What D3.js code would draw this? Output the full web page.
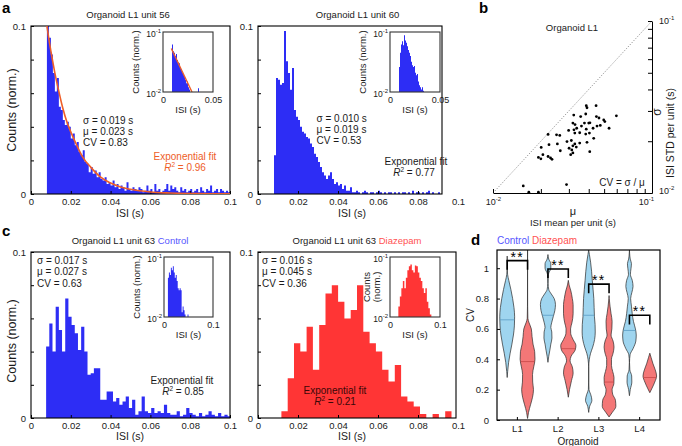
<!DOCTYPE html>
<html><head><meta charset="utf-8">
<script src="https://cdn.jsdelivr.net/npm/d3@7"></script>
<style>
body{margin:0;background:#fff;}
svg{font-family:"Liberation Sans", Arial, Helvetica, sans-serif;}
</style></head><body>
<script>
// ---------------- DATA ----------------
const histTicks = [0, 0.02, 0.04, 0.06, 0.08, 0.1];

// Panel a (left): Organoid L1 unit 56
const unit56Start = 0.008, unit56BinWidth = 0.001;
const unit56Counts = [0.105,0.093,0.083,0.072,0.061,0.069,0.052,0.050,0.044,0.041,
 0.043,0.040,0.033,0.036,0.029,0.031,0.025,0.023,0.026,0.019,
 0.018,0.013,0.016,0.012,0.014,0.010,0.013,0.009,0.008,0.010,
 0.006,0.007,0.005,0.008,0.004,0.006,0.003,0.005,0.004,0.002,
 0.007,0.003,0.002,0.004,0.003,0.002,0.004,0.003,0.001,0.002,
 0.005,0.002,0.003,0.001,0.006,0.002,0.003,0.001,0.002,0.003,
 0.006,0.002,0.005,0.003,0.004,0.002,0.001,0.004,0.002,0.003,
 0.001,0.002,0.003,0.001,0.002,0.003,0.001,0.004,0.002,0.001,
 0.003,0.002,0.005,0.001,0.002,0.003,0.001,0.003,0.002,0.001,
 0.002,0.001];
const unit56FitISI =    [0.008,0.009,0.010,0.012,0.014,0.016,0.018,0.020,0.023,0.026,0.030,0.035,0.040,0.045,0.050,0.060,0.070,0.080,0.090,0.100];
const unit56FitCounts = [0.100,0.092,0.085,0.072,0.061,0.051,0.043,0.037,0.029,0.022,0.016,0.010,0.0065,0.0042,0.0028,0.0012,0.0006,0.0003,0.0001,0.00005];
const unit56InsetStart = 0.009, unit56InsetWidth = 0.001;
const unit56InsetCounts = [0.062,0.048,0.045,0.040,0.043,0.034,0.031,0.030,0.026,0.024,
 0.021,0.020,0.018,0.016,0.014,0.015,0.012,0.011,0.010,0.0095,0.009,0.008,0.007,0.006,0.005,0.005,0.0115];
const unit56InsetFitISI = [0.0083, 0.0290];
const unit56InsetFitCounts = [0.053, 0.0098];
const unit56Stats = ["σ = 0.019 s", "μ = 0.023 s", "CV = 0.83"];
const unit56R2 = "0.96";

// Panel a (right): Organoid L1 unit 60
const unit60Start = 0.008, unit60BinWidth = 0.001;
const unit60Counts = [0.023,0.069,0.068,0.065,0.066,0.097,0.079,0.072,0.062,0.075,
 0.050,0.046,0.044,0.040,0.037,0.036,0.034,0.033,0.030,0.028,
 0.024,0.022,0.019,0.016,0.013,0.011,0.009,0.011,0.013,0.009,
 0.006,0.007,0.005,0.006,0.003,0.005,0.002,0.002,0.004,0.001,
 0.001,0.002,
 0.001,0,0.001,0.002,0.001,0,0.001,0.001,0,0.001,
 0.002,0.001,0,0.001,0,0.001,0.001,0,0.001,0,
 0.001,0,0.001,0.001,0,0.001,0,0.002,0,0.001,
 0.001,0,0.001,0,0.001,0.002,0,0.001,0,0,
 0.001,0,0.001,0,0,0.001,0,0,0,0];
const unit60InsetStart = 0.009, unit60InsetWidth = 0.001;
const unit60InsetCounts = [0.026,0.045,0.062,0.070,0.060,0.088,0.072,0.066,0.058,0.050,
 0.045,0.040,0.032,0.028,0.026,0.027,0.021,0.019,0.020,0.015,0.013,0.012,0.011,0.012,0.0105];
const unit60Stats = ["σ = 0.010 s", "μ = 0.019 s", "CV = 0.53"];
const unit60R2 = "0.77";

// Panel b: ISI mean vs STD per unit, Organoid L1
const unitMean = [0.0386,0.0390,0.0445,0.0597,0.0322,0.0356,0.0383,0.0447,0.0464,0.0497,0.0505,0.0318,0.0328,0.0336,0.0376,0.0400,0.0407,0.0323,0.0360,0.0386,0.0426,0.0451,0.0473,0.0537,0.0222,0.0251,0.0263,0.0299,0.0327,0.0351,0.0383,0.0404,0.0430,0.0292,0.0311,0.0327,0.0351,0.0225,0.0254,0.0265,0.0301,0.0313,0.0318,0.0334,0.0390,0.0406,0.0308,0.0318,0.0201,0.0206,0.0193,0.0200,0.0222,0.0230,0.0235,0.0155,0.0168,0.0193,0.0290];
const unitStd  = [0.0322,0.0313,0.0322,0.0281,0.0284,0.0278,0.0288,0.0278,0.0273,0.0266,0.0260,0.0255,0.0250,0.0238,0.0255,0.0255,0.0256,0.0233,0.0245,0.0235,0.0238,0.0245,0.0247,0.0238,0.0219,0.0218,0.0216,0.0231,0.0223,0.0224,0.0220,0.0223,0.0208,0.0199,0.0202,0.0193,0.0195,0.0191,0.0193,0.0176,0.0182,0.0178,0.0188,0.0185,0.0197,0.0174,0.0167,0.0171,0.0184,0.0167,0.0161,0.0158,0.0163,0.0160,0.0157,0.0110,0.0101,0.0101,0.0112];
const logTicks = [0.01,0.02,0.03,0.04,0.05,0.06,0.07,0.08,0.09,0.1];

// Panel c (left): unit 63 Control
const ctrlStart = 0.0076, ctrlBinWidth = 0.0016;
const ctrlCounts = [0.043,0.057,0.040,0.067,0.053,0.040,0.072,0.061,0.056,0.051,
 0.041,0.055,0.040,0.026,0.027,0.030,0.030,0.011,0.011,0.016,
 0.016,0.010,0.012,0.008,0.010,0.013,0.006,0.011,0.002,0.004,
 0.013,0.004,0.003,0.006,0.003,0.004,0.003,0.008,0.003,0.002,
 0.002,0.004,0.001,0.002,0.006,0.003,0.002,0.001,0.003,0.001,
 0.002,0.004,0.002,0.001,0.003,0.001,0.002,0.001];
const ctrlInsetStart = 0.008, ctrlInsetWidth = 0.002;
const ctrlInsetCounts = [0.045,0.055,0.050,0.066,0.060,0.070,0.055,0.045,0.050,0.040,0.030,0.028,0.030,0.028,0.012,0.015,0.013,0.011,0.010,0.009,0.011];
const ctrlStats = ["σ = 0.017 s", "μ = 0.027 s", "CV = 0.63"];
const ctrlR2 = "0.85";

// Panel c (right): unit 63 Diazepam
const dzpStart = 0.0117, dzpBinWidth = 0.00315;
const dzpCounts = [0.004,0.024,0.045,0.040,0.055,0.029,0.056,0.075,0.080,0.070,
 0.060,0.065,0.080,0.052,0.045,0.040,0.029,0.022,0.032,0.013,
 0.010,0.007,0.0024,0,0.0024,0,0.004];
const dzpInsetStart = 0.0167, dzpInsetWidth = 0.003;
const dzpInsetCounts = [0.015,0.022,0.030,0.040,0.030,0.045,0.060,0.070,0.075,0.060,0.055,0.072,0.070,0.055,0.045,0.040,0.030,0.025,0.030,0.018,0.014,0.011];
const dzpStats = ["σ = 0.016 s", "μ = 0.045 s", "CV = 0.36"];
const dzpR2 = "0.21";

// Panel d: CV violins, [CV, relative density]
const organoids = ["L1","L2","L3","L4"];
const conditions = ["Control","Diazepam"];
const controlL1 = [[0.28,0],[0.32,0.06],[0.38,0.18],[0.44,0.37],[0.5,0.59],[0.56,0.78],[0.62,0.9],[0.68,0.93],[0.74,0.85],[0.8,0.68],[0.86,0.46],[0.92,0.2],[0.96,0.05],[1.0,0.01],[1.08,0]];
const controlL2 = [[0.38,0],[0.42,0.1],[0.46,0.24],[0.5,0.36],[0.54,0.5],[0.58,0.48],[0.61,0.36],[0.64,0.46],[0.68,0.66],[0.72,0.86],[0.76,0.94],[0.8,0.78],[0.83,0.42],[0.86,0.1],[0.9,0.02],[0.96,0.06],[1.0,0.36],[1.03,0.36],[1.06,0.1],[1.09,0]];
const controlL3 = [[0.05,0],[0.09,0.12],[0.13,0.4],[0.17,0.24],[0.2,0.04],[0.25,0.01],[0.35,0.01],[0.4,0.08],[0.44,0.24],[0.48,0.5],[0.53,0.74],[0.58,0.82],[0.63,0.8],[0.68,0.72],[0.74,0.68],[0.8,0.64],[0.86,0.55],[0.92,0.45],[0.98,0.36],[1.04,0.24],[1.09,0.09],[1.12,0]];
const controlL4 = [[0.16,0],[0.2,0.1],[0.25,0.3],[0.29,0.28],[0.33,0.05],[0.38,0.01],[0.43,0.08],[0.47,0.45],[0.52,0.8],[0.56,0.85],[0.6,0.75],[0.65,0.5],[0.7,0.35],[0.75,0.25],[0.8,0.15],[0.84,0.3],[0.88,0.45],[0.92,0.35],[0.96,0.12],[1.0,0.2],[1.03,0.25],[1.06,0.1],[1.1,0.02],[1.12,0]];
const diazepamL1 = [[0.01,0],[0.05,0.12],[0.1,0.37],[0.15,0.62],[0.2,0.74],[0.25,0.64],[0.3,0.62],[0.35,0.77],[0.4,0.93],[0.45,0.89],[0.5,0.68],[0.55,0.56],[0.6,0.47],[0.64,0.19],[0.67,0.04],[0.75,0.01],[1.12,0]];
const diazepamL2 = [[0.15,0],[0.2,0.15],[0.26,0.4],[0.31,0.6],[0.35,0.5],[0.39,0.22],[0.42,0.35],[0.46,0.85],[0.49,0.95],[0.53,0.6],[0.57,0.3],[0.6,0.28],[0.64,0.45],[0.7,0.6],[0.76,0.6],[0.8,0.5],[0.85,0.32],[0.89,0.1],[0.92,0]];
const diazepamL3 = [[0.02,0],[0.05,0.4],[0.09,0.85],[0.13,0.8],[0.17,0.45],[0.2,0.38],[0.24,0.6],[0.28,0.62],[0.32,0.45],[0.36,0.3],[0.4,0.3],[0.44,0.5],[0.48,0.62],[0.52,0.5],[0.56,0.25],[0.6,0.35],[0.65,0.38],[0.7,0.25],[0.75,0.12],[0.8,0.02],[0.82,0]];
const diazepamL4 = [[0.18,0],[0.21,0.28],[0.25,0.62],[0.29,0.85],[0.33,0.68],[0.37,0.4],[0.41,0.17],[0.44,0]];
const controlMedians = [0.66, 0.69, 0.69, 0.59];
const diazepamMedians = [0.385, 0.47, 0.25, 0.28];
const sigTops = [1.05, 0.995, 0.895, 0.69];
const sigLabels = ["**","**","**","**"];
const cvTicks = [0, 0.2, 0.4, 0.6, 0.8, 1];

// ---------------- STYLE ----------------
const BLUE = "#2d2df5", RED = "#ff3535", ORANGE = "#ee5e28";
const CTRL_TXT = "#5656ff", DZP_TXT = "#ff5252";
const VBLUE = "#9fd5ef", VRED = "#f47777";

const svg = d3.select("body").append("svg").attr("width",682).attr("height",446);
const defs = svg.append("defs");

function txt(x, y, s, o = {}) {
  const t = svg.append("text").attr("x", x).attr("y", y).text(s)
    .attr("font-size", o.size || 10).attr("fill", o.fill || "#1a1a1a")
    .attr("text-anchor", o.anchor || "start");
  if (o.weight) t.attr("font-weight", o.weight);
  if (o.rotate) t.attr("transform", `rotate(-90,${x},${y})`);
  return t;
}
function r2text(cx, y, val, color) {
  const t = svg.append("text").attr("x", cx).attr("y", y).attr("text-anchor","middle")
    .attr("font-size", 10).attr("fill", color);
  t.append("tspan").attr("font-style","italic").text("R");
  t.append("tspan").attr("dy",-4).attr("font-size",6.5).text("2");
  t.append("tspan").attr("dy",4).text(" = " + val);
}
function supify(sel, size) {
  sel.selectAll(".tick text").each(function(d) {
    const t = d3.select(this);
    const e = Math.round(Math.log10(d));
    t.text("10");
    t.append("tspan").attr("dy", -4).attr("font-size", size || 6.5).text(String(e));
  });
}
function styleAxis(g, size) {
  g.select(".domain").remove();
  g.selectAll(".tick line").attr("stroke", "#000");
  g.selectAll(".tick text").attr("font-size", size || 9.5).attr("fill", "#1a1a1a").attr("font-family", null);
}
function bins(start, width, counts) {
  return counts.map((v, i) => ({x0: start + i*width, x1: start + (i+1)*width, v}));
}
function stepData(b) {
  const d = b.map(o => ({x: o.x0, v: o.v}));
  d.push({x: b[b.length-1].x1, v: b[b.length-1].v});
  return d;
}
let clipN = 0;
function clipRect(x, y, w, h) {
  const id = "clip" + (clipN++);
  defs.append("clipPath").attr("id", id).append("rect").attr("x", x).attr("y", y).attr("width", w).attr("height", h);
  return `url(#${id})`;
}

function mainHist(o) {
  const x = d3.scaleLinear().domain([0, 0.1]).range([o.left, o.left + o.span]);
  const y = d3.scaleLinear().domain([0, 0.1]).range([o.bottom, o.top]);
  const clip = clipRect(o.left, o.top, o.right - o.left, o.bottom - o.top);
  const area = d3.area().curve(d3.curveStepAfter).x(d => x(d.x)).y0(y(0)).y1(d => y(Math.min(d.v, 0.11)));
  svg.append("path").datum(stepData(bins(o.start, o.width, o.counts))).attr("d", area)
    .attr("fill", o.color).attr("clip-path", clip);
  const gx = svg.append("g").attr("transform", `translate(0,${o.bottom})`)
    .call(d3.axisBottom(x).tickValues(histTicks).tickSizeInner(-3).tickSizeOuter(0).tickPadding(4).tickFormat(d3.format("~g")));
  styleAxis(gx);
  gx.selectAll(".tick").filter(d => x(d) > o.right + 0.5).select("line").remove();
  const gy = svg.append("g").attr("transform", `translate(${o.left},0)`)
    .call(d3.axisLeft(y).tickValues(histTicks).tickSizeInner(-3).tickSizeOuter(0).tickPadding(5)
      .tickFormat(d => (d === 0 || d === 0.1) ? d3.format("~g")(d) : ""));
  styleAxis(gy);
  svg.append("rect").attr("x", o.left).attr("y", o.top).attr("width", o.right - o.left).attr("height", o.bottom - o.top)
    .attr("fill", "none").attr("stroke", "#000").attr("stroke-width", 1.1);
  return {x, y};
}

function insetHist(o) {
  svg.append("rect").attr("x", o.left).attr("y", o.top).attr("width", o.right - o.left).attr("height", o.bottom - o.top).attr("fill", "#fff");
  const x = d3.scaleLinear().domain([0, o.xmax]).range([o.left, o.right]);
  const y = d3.scaleLog().domain([0.01, 0.1]).range([o.bottom, o.top]).clamp(true);
  const clip = clipRect(o.left, o.top, o.right - o.left, o.bottom - o.top);
  const area = d3.area().curve(d3.curveStepAfter).x(d => x(d.x)).y0(o.bottom).y1(d => y(Math.max(d.v, 0.01)));
  svg.append("path").datum(stepData(bins(o.start, o.width, o.counts))).attr("d", area)
    .attr("fill", o.color).attr("clip-path", clip);
  if (o.fitX) {
    svg.append("path").datum(o.fitX.map((v, i) => [v, o.fitY[i]]))
      .attr("d", d3.line().x(d => x(d[0])).y(d => y(d[1])))
      .attr("fill", "none").attr("stroke", ORANGE).attr("stroke-width", 1.4).attr("clip-path", clip);
  }
  const gx = svg.append("g").attr("transform", `translate(0,${o.bottom})`)
    .call(d3.axisBottom(x).tickValues([0, o.xmax]).tickSize(0).tickPadding(5).tickFormat(d3.format("~g")));
  styleAxis(gx, 9);
  const gy = svg.append("g").attr("transform", `translate(${o.left},0)`)
    .call(d3.axisLeft(y).tickValues([0.01, 0.1]).tickSize(0).tickPadding(2));
  styleAxis(gy, 8.5);
  gy.selectAll(".tick text").attr("dy", "0.5em");
  supify(gy, 6);
  svg.append("rect").attr("x", o.left).attr("y", o.top).attr("width", o.right - o.left).attr("height", o.bottom - o.top)
    .attr("fill", "none").attr("stroke", "#333").attr("stroke-width", 1.1);
  txt((o.left + o.right)/2, o.bottom + 21, "ISI (s)", {size: 9.5, anchor: "middle"});
  if (o.twoLine) {
    txt(o.left - 20, (o.top + o.bottom)/2, "Counts", {size: 9.5, anchor: "middle", rotate: true});
    txt(o.left - 10, (o.top + o.bottom)/2, "(norm.)", {size: 9.5, anchor: "middle", rotate: true});
  } else {
    txt(o.left - 24, (o.top + o.bottom)/2, "Counts (norm.)", {size: 9.5, anchor: "middle", rotate: true});
  }
}

function statsBlock(x, y0, lines) {
  lines.forEach((s, i) => txt(x, y0 + i*11.3, s, {size: 10}));
}

// ---------------- PANEL a ----------------
txt(2, 13, "a", {size: 15, weight: "bold", fill: "#000"});
txt(128, 18, "Organoid L1 unit 56", {size: 9.5, anchor: "middle"});
const aL = mainHist({left: 31, right: 230, top: 26, bottom: 194, span: 199,
  start: unit56Start, width: unit56BinWidth, counts: unit56Counts, color: BLUE});
const fitClip = clipRect(31, 26, 199, 168);
svg.append("path").datum(unit56FitISI.map((v, i) => [v, unit56FitCounts[i]]))
  .attr("d", d3.line().curve(d3.curveMonotoneX).x(d => aL.x(d[0])).y(d => aL.y(d[1])))
  .attr("fill", "none").attr("stroke", ORANGE).attr("stroke-width", 1.6).attr("clip-path", fitClip);
txt(16, 110, "Counts (norm.)", {size: 12.5, anchor: "middle", rotate: true});
txt(130, 216.5, "ISI (s)", {size: 10.5, anchor: "middle"});
statsBlock(83, 123.5, unit56Stats);
txt(185, 159.5, "Exponential fit", {size: 10, anchor: "middle", fill: ORANGE});
r2text(185, 170.5, unit56R2, ORANGE);
insetHist({left: 163, right: 213, top: 32, bottom: 92, xmax: 0.05,
  start: unit56InsetStart, width: unit56InsetWidth, counts: unit56InsetCounts, color: BLUE,
  fitX: unit56InsetFitISI, fitY: unit56InsetFitCounts});

txt(357.5, 18, "Organoid L1 unit 60", {size: 9.5, anchor: "middle"});
mainHist({left: 258, right: 442, top: 26, bottom: 194, span: 200,
  start: unit60Start, width: unit60BinWidth, counts: unit60Counts, color: BLUE});
txt(352, 216.5, "ISI (s)", {size: 10.5, anchor: "middle"});
statsBlock(316.5, 121.8, unit60Stats);
txt(416, 164.5, "Exponential fit", {size: 10, anchor: "middle", fill: "#1a1a1a"});
r2text(414, 176, unit60R2, "#1a1a1a");
insetHist({left: 390, right: 440, top: 32, bottom: 92, xmax: 0.05,
  start: unit60InsetStart, width: unit60InsetWidth, counts: unit60InsetCounts, color: BLUE});

// ---------------- PANEL b ----------------
txt(479, 13, "b", {size: 15, weight: "bold", fill: "#000"});
txt(572, 31, "Organoid L1", {size: 9.5, anchor: "middle"});
const bx = d3.scaleLog().domain([0.01, 0.1]).range([493, 652]);
const by = d3.scaleLog().domain([0.01, 0.1]).range([193, 21]);
svg.append("line").attr("x1", bx(0.01)).attr("y1", by(0.01)).attr("x2", bx(0.1)).attr("y2", by(0.1))
  .attr("stroke", "#777").attr("stroke-width", 0.8).attr("stroke-dasharray", "1.2,1.6");
const bgx = svg.append("g").attr("transform", "translate(0,193)")
  .call(d3.axisBottom(bx).tickValues(logTicks).tickSizeInner(-4).tickSizeOuter(0).tickPadding(6)
    .tickFormat(d => (d === 0.01 || d === 0.1) ? "10" : ""));
bgx.select(".domain").attr("stroke", "#000");
bgx.selectAll(".tick line").attr("stroke", "#000");
bgx.selectAll(".tick text").attr("font-size", 9).attr("fill", "#1a1a1a");
bgx.selectAll(".tick").filter(d => d === 0.01 || d === 0.1).select("text")
  .append("tspan").attr("dy", -4).attr("font-size", 6).text(d => String(Math.round(Math.log10(d))));
bgx.selectAll(".tick").filter(d => d === 0.1).select("text").attr("dx", -6);
const bgy = svg.append("g").attr("transform", "translate(652,0)")
  .call(d3.axisRight(by).tickValues(logTicks).tickSizeInner(-4).tickSizeOuter(0).tickPadding(7)
    .tickFormat(d => (d === 0.01 || d === 0.1) ? "10" : ""));
bgy.select(".domain").attr("stroke", "#000");
bgy.selectAll(".tick line").attr("stroke", "#000");
bgy.selectAll(".tick text").attr("font-size", 9).attr("fill", "#1a1a1a");
bgy.selectAll(".tick").filter(d => d === 0.01 || d === 0.1).select("text")
  .append("tspan").attr("dy", -4).attr("font-size", 6).text(d => String(Math.round(Math.log10(d))));
bgy.selectAll(".tick").filter(d => d === 0.01).select("text").attr("dy", "0.1em");
svg.append("g").selectAll("circle").data(unitMean.map((m, i) => [m, unitStd[i]])).join("circle")
  .attr("cx", d => bx(d[0])).attr("cy", d => by(d[1])).attr("r", 1.4).attr("fill", "#000");
txt(622, 186, "CV = σ / μ", {size: 10, anchor: "middle"});
txt(573, 215, "μ", {size: 11, anchor: "middle"});
txt(573, 226, "ISI mean per unit (s)", {size: 9.5, anchor: "middle"});
txt(661, 112, "σ", {size: 12, anchor: "middle", rotate: true});
txt(674, 133, "ISI STD per unit (s)", {size: 10.5, anchor: "middle", rotate: true});

// ---------------- PANEL c ----------------
txt(2, 236, "c", {size: 15, weight: "bold", fill: "#000"});
{
  const t = svg.append("text").attr("x", 130).attr("y", 243.5).attr("text-anchor", "middle").attr("font-size", 9.5).attr("fill", "#1a1a1a");
  t.append("tspan").text("Organoid L1 unit 63 ");
  t.append("tspan").attr("fill", CTRL_TXT).text("Control");
  const t2 = svg.append("text").attr("x", 357).attr("y", 243.5).attr("text-anchor", "middle").attr("font-size", 9.5).attr("fill", "#1a1a1a");
  t2.append("tspan").text("Organoid L1 unit 63 ");
  t2.append("tspan").attr("fill", DZP_TXT).text("Diazepam");
}
mainHist({left: 31, right: 230, top: 252, bottom: 418, span: 199,
  start: ctrlStart, width: ctrlBinWidth, counts: ctrlCounts, color: BLUE});
txt(16, 341, "Counts (norm.)", {size: 12.5, anchor: "middle", rotate: true});
txt(130, 440, "ISI (s)", {size: 10.5, anchor: "middle"});
statsBlock(37, 264, ctrlStats);
txt(182, 384, "Exponential fit", {size: 10, anchor: "middle"});
r2text(183, 395, ctrlR2, "#1a1a1a");
insetHist({left: 164, right: 213, top: 257, bottom: 317, xmax: 0.1,
  start: ctrlInsetStart, width: ctrlInsetWidth, counts: ctrlInsetCounts, color: BLUE});

mainHist({left: 258, right: 456, top: 252, bottom: 418, span: 200,
  start: dzpStart, width: dzpBinWidth, counts: dzpCounts, color: RED});
txt(352, 440, "ISI (s)", {size: 10.5, anchor: "middle"});
statsBlock(262, 264, dzpStats);
txt(335, 393.5, "Exponential fit", {size: 10, anchor: "middle", fill: "#3a0808"});
r2text(335, 404.5, dzpR2, "#3a0808");
insetHist({left: 390, right: 440, top: 257, bottom: 317, xmax: 0.1,
  start: dzpInsetStart, width: dzpInsetWidth, counts: dzpInsetCounts, color: RED, twoLine: true});

// ---------------- PANEL d ----------------
txt(471, 245, "d", {size: 15, weight: "bold", fill: "#000"});
{
  const t = svg.append("text").attr("x", 497).attr("y", 243.5).attr("font-size", 10);
  t.append("tspan").attr("fill", CTRL_TXT).text("Control ");
  t.append("tspan").attr("fill", DZP_TXT).text("Diazepam");
}
const dx = d3.scaleBand().domain(organoids).range([497, 660]);
const dsub = d3.scaleBand().domain(conditions).range([0, dx.bandwidth()]);
const dy = d3.scaleLinear().domain([0, 1.12]).range([420, 250]);
const dw = d3.scaleLinear().domain([0, 1]).range([0, 8]);
const shapes = {Control: [controlL1, controlL2, controlL3, controlL4], Diazepam: [diazepamL1, diazepamL2, diazepamL3, diazepamL4]};
const medians = {Control: controlMedians, Diazepam: diazepamMedians};
const vFill = {Control: VBLUE, Diazepam: VRED};
const vMed = {Control: "#5a9cc4", Diazepam: "#c84848"};
function densAt(shape, v) {
  for (let i = 0; i < shape.length - 1; i++) {
    const a = shape[i], b = shape[i+1];
    if (v >= a[0] && v <= b[0]) return a[1] + (b[1]-a[1]) * (v - a[0]) / (b[0] - a[0]);
  }
  return 0;
}
const dClip = clipRect(497, 250, 163, 170);
conditions.forEach(c => {
  organoids.forEach((g, gi) => {
    const cx = dx(g) + dsub(c) + dsub.bandwidth()/2;
    const shape = shapes[c][gi];
    const area = d3.area().curve(d3.curveMonotoneY).y(d => dy(d[0])).x0(d => cx - dw(d[1])).x1(d => cx + dw(d[1]));
    svg.append("path").datum(shape).attr("d", area).attr("fill", vFill[c])
      .attr("stroke", "#2a2a2a").attr("stroke-width", 0.7).attr("clip-path", dClip);
    const m = medians[c][gi], hw = dw(densAt(shape, m));
    svg.append("line").attr("x1", cx - hw).attr("x2", cx + hw).attr("y1", dy(m)).attr("y2", dy(m))
      .attr("stroke", vMed[c]).attr("stroke-width", 0.8);
  });
});
organoids.forEach((g, gi) => {
  const x1 = dx(g) + dsub("Control") + dsub.bandwidth()/2;
  const x2 = dx(g) + dsub("Diazepam") + dsub.bandwidth()/2;
  const top = dy(sigTops[gi]), leg = dy(sigTops[gi] - 0.06);
  svg.append("path").attr("d", `M${x1},${leg}V${top}H${x2}V${leg}`).attr("fill", "none")
    .attr("stroke", "#000").attr("stroke-width", 1.6);
  txt((x1 + x2)/2, top + 1, sigLabels[gi], {size: 14, anchor: "middle", fill: "#000"}).attr("letter-spacing", 1.5);
});
const dgy = svg.append("g").attr("transform", "translate(497,0)")
  .call(d3.axisLeft(dy).tickValues(cvTicks).tickSizeInner(-3).tickSizeOuter(0).tickPadding(8).tickFormat(d3.format("~g")));
styleAxis(dgy);
const dgx = svg.append("g").attr("transform", "translate(0,420)")
  .call(d3.axisBottom(dx).tickSizeInner(-3).tickSizeOuter(0).tickPadding(5));
styleAxis(dgx);
svg.append("rect").attr("x", 497).attr("y", 250).attr("width", 163).attr("height", 170)
  .attr("fill", "none").attr("stroke", "#000").attr("stroke-width", 1.2);
txt(474, 315, "CV", {size: 10, anchor: "middle", rotate: true});
txt(578, 444.5, "Organoid", {size: 10, anchor: "middle"});
</script>
</body></html>
